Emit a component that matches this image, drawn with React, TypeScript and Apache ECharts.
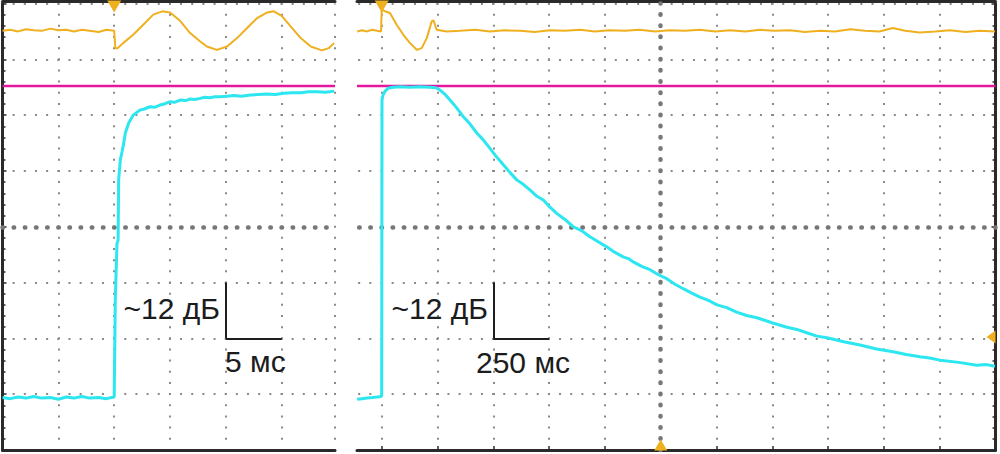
import React, { useEffect, useRef } from "react";
import * as echarts from "echarts";

// ---------- data (time in ms, level in screen divisions; 1 div ≈ 12 dB) ----------
const leftRange = [0, 29.77]; // 5 ms / div
const rightRange = [-110.7, 2750]; // 250 ms / div
const rightGridTicks = [0, 250, 500, 750, 1000, 1250, 1500, 1750, 2000, 2250, 2500, 2750];
const referenceLevel = 2.52; // magenta reference trace
const leftTrigger = 10;
const rightTrigger = 0;
const rightCenter = 1250;
const rightLevelMarker = -2;
const scaleBarLeft = { t: 20, dt: 5, y: -2, dy: 1 };
const scaleBarRight = { t: 500, dt: 250, y: -2, dy: 1 };
const levelLabel = "~12 дБ";
const timeLabelLeft = "5 мс";
const timeLabelRight = "250 мс";

const leftYellow: number[][] = [
  [0, 3.51], [0.7, 3.53], [1.4, 3.5], [2.1, 3.54], [2.8, 3.52], [3.5, 3.51], [4.3, 3.55], [5.0, 3.52],
  [5.7, 3.53], [6.4, 3.5], [7.1, 3.53], [7.8, 3.51], [8.6, 3.49], [9.3, 3.53], [10.0, 3.51],
  [10.1, 3.2], [10.3, 3.2], [10.8, 3.29], [11.7, 3.44], [12.6, 3.62], [13.5, 3.8], [14.3, 3.86],
  [15.0, 3.84], [15.9, 3.69], [16.8, 3.47], [17.7, 3.32], [18.3, 3.23], [19.2, 3.17], [20.1, 3.23],
  [21.0, 3.38], [21.9, 3.56], [22.8, 3.74], [23.7, 3.84], [24.3, 3.86], [25.0, 3.78], [25.8, 3.59],
  [26.7, 3.38], [27.6, 3.23], [28.6, 3.16], [29.2, 3.2], [29.7, 3.29],
];

const leftCyan: number[][] = [
  [0, -3.06], [0.7, -3.08], [1.4, -3.05], [2.1, -3.07], [2.8, -3.04], [3.5, -3.07], [4.3, -3.06],
  [5.0, -3.09], [5.7, -3.05], [6.4, -3.07], [7.1, -3.04], [7.8, -3.07], [8.6, -3.06], [9.3, -3.08],
  [10.0, -3.05], [10.1, -1.3], [10.25, -0.3], [10.35, -0.24], [10.4, 0.84], [10.55, 1.2], [10.7, 1.34],
  [10.8, 1.44], [11.0, 1.68], [11.3, 1.86], [11.7, 2.0], [12.3, 2.09], [12.7, 2.11], [13.2, 2.15],
  [13.6, 2.14], [14.1, 2.18], [14.5, 2.2], [15.0, 2.24], [15.4, 2.23], [15.9, 2.27], [16.4, 2.26],
  [16.8, 2.29], [17.2, 2.28], [17.7, 2.3], [18.1, 2.32], [18.6, 2.31], [19.0, 2.33], [19.5, 2.33],
  [20.1, 2.34], [20.7, 2.35], [21.4, 2.34], [22.2, 2.36], [22.9, 2.37], [23.7, 2.38], [24.4, 2.37],
  [25.2, 2.39], [25.9, 2.4], [26.7, 2.4], [27.4, 2.42], [28.2, 2.42], [28.9, 2.41], [29.7, 2.43],
];

const rightYellow: number[][] = [
  [-110, 3.5], [-88, 3.52], [-66, 3.5], [-43, 3.53], [-21, 3.51], [-3, 3.5], [0, 3.89], [15, 3.86],
  [37, 3.83], [67, 3.62], [97, 3.44], [127, 3.29], [157, 3.17], [179, 3.2], [202, 3.38], [224, 3.68],
  [232, 3.7], [246, 3.53], [291, 3.5], [350, 3.51], [420, 3.53], [485, 3.5], [550, 3.52], [620, 3.51],
  [685, 3.49], [755, 3.52], [820, 3.51], [890, 3.53], [955, 3.5], [1020, 3.52], [1090, 3.51],
  [1155, 3.53], [1225, 3.5], [1290, 3.52], [1360, 3.51], [1425, 3.53], [1495, 3.5], [1560, 3.52],
  [1630, 3.5], [1695, 3.53], [1760, 3.51], [1830, 3.52], [1895, 3.49], [1965, 3.51], [2030, 3.5],
  [2100, 3.54], [2165, 3.51], [2230, 3.5], [2290, 3.56], [2345, 3.51], [2410, 3.48], [2480, 3.5],
  [2545, 3.52], [2615, 3.49], [2680, 3.51], [2748, 3.5],
];

const rightCyan: number[][] = [
  [-110, -3.09], [-88, -3.08], [-66, -3.07], [-43, -3.06], [-21, -3.05], [-3, -3.04], [0, -3.03],
  [1.3, 2.27], [6, 2.36], [15, 2.43], [28, 2.48], [51, 2.5], [82, 2.51], [127, 2.5], [172, 2.51],
  [216, 2.5], [243, 2.49], [261, 2.45], [284, 2.37], [306, 2.27], [336, 2.13], [366, 1.97], [396, 1.84],
  [426, 1.68], [452, 1.57], [478, 1.44], [511, 1.27], [545, 1.11], [575, 0.97], [605, 0.84], [634, 0.76],
  [664, 0.66], [694, 0.55], [724, 0.48], [754, 0.35], [784, 0.24], [821, 0.13], [858, 0.0], [895, -0.07],
  [933, -0.18], [970, -0.27], [1008, -0.36], [1045, -0.46], [1082, -0.54], [1105, -0.57], [1127, -0.63],
  [1165, -0.71], [1202, -0.77], [1240, -0.86], [1277, -0.93], [1314, -1.03], [1351, -1.11],
  [1389, -1.19], [1426, -1.26], [1464, -1.32], [1502, -1.4], [1546, -1.45], [1590, -1.53],
  [1635, -1.59], [1681, -1.63], [1748, -1.72], [1816, -1.8], [1860, -1.84], [1904, -1.9],
  [1950, -1.96], [1995, -1.99], [2070, -2.06], [2143, -2.12], [2217, -2.19], [2291, -2.24],
  [2350, -2.29], [2412, -2.33], [2455, -2.35], [2501, -2.39], [2585, -2.43], [2667, -2.48],
  [2710, -2.47], [2748, -2.5],
];

// ---------- styles ----------
const FRAME = "#2a2a2a";
const DOT = "#8a8a8a";
const CENTER_DOT = "#777777";
const YELLOW = "#efb01f";
const CYAN = "#2ce6f0";
const MAGENTA = "#e3189e";
const TEXT = "#1c1c1c";
const FONT = '30px "Liberation Sans", Arial, sans-serif';
const DIV_PX = 55.8;
const MINOR_PX = DIV_PX / 5;

const dotted = (offset: number) => ({
  color: DOT,
  width: 2,
  type: [2, MINOR_PX - 2],
  dashOffset: offset,
});
const centerDots = (offset: number) => ({
  color: CENTER_DOT,
  width: 4.5,
  type: [0.5, MINOR_PX - 0.5],
  cap: "round",
  dashOffset: offset,
});
const frameLine = { show: true, onZero: false, lineStyle: { color: FRAME, width: 3 } };
const noLabel = { show: false };

function scaleBar(b: { t: number; dt: number; y: number; dy: number }) {
  const ls = { color: "#1e1e1e", width: 2, type: "solid" };
  return [
    [{ coord: [b.t, b.y + b.dy], lineStyle: ls }, { coord: [b.t, b.y] }],
    [{ coord: [b.t, b.y], lineStyle: ls }, { coord: [b.t + b.dt, b.y] }],
  ];
}

export default function App() {
  const ref = useRef<HTMLDivElement>(null);

  useEffect(() => {
    if (!ref.current) return;
    const chart = echarts.init(ref.current, undefined, { renderer: "svg" });

    const option: any = {
      animation: false,
      backgroundColor: "#ffffff",
      grid: [
        { left: 2.5, top: 3.5, width: 332.5, height: 446.5 },
        { left: 357, top: 3.5, width: 638.5, height: 446.5 },
      ],
      xAxis: [
        {
          gridIndex: 0, type: "value", min: leftRange[0], max: leftRange[1], interval: 5,
          position: "bottom", axisLine: frameLine, axisTick: { show: false }, axisLabel: noLabel,
          splitLine: { show: true, lineStyle: dotted(1) },
        },
        {
          gridIndex: 0, type: "value", min: leftRange[0], max: leftRange[1], position: "top", offset: 2,
          axisLine: frameLine, axisTick: { show: false }, axisLabel: noLabel, splitLine: { show: false },
        },
        {
          gridIndex: 1, type: "value", min: rightRange[0], max: rightRange[1], position: "bottom",
          axisLine: frameLine,
          axisTick: { show: true, inside: true, length: 4, customValues: rightGridTicks, lineStyle: { color: FRAME, width: 1.5 } },
          axisLabel: noLabel,
          splitLine: { show: true, lineStyle: dotted(1) },
        },
        {
          gridIndex: 1, type: "value", min: rightRange[0], max: rightRange[1], position: "top", offset: 2,
          axisLine: frameLine, axisTick: { show: false }, axisLabel: noLabel, splitLine: { show: false },
        },
      ],
      yAxis: [
        {
          gridIndex: 0, type: "value", min: -4, max: 4, interval: 1, position: "left",
          axisLine: frameLine,
          axisTick: { show: true, inside: true, length: 4, lineStyle: { color: FRAME, width: 1.5 } },
          minorTick: { show: true, splitNumber: 5, length: 3, lineStyle: { color: FRAME, width: 1.5 } },
          axisLabel: noLabel,
          splitLine: { show: true, lineStyle: dotted(1) },
        },
        {
          gridIndex: 1, type: "value", min: -4, max: 4, interval: 1, position: "right",
          axisLine: frameLine,
          axisTick: { show: true, inside: true, length: 4, lineStyle: { color: FRAME, width: 1.5 } },
          minorTick: { show: true, splitNumber: 5, length: 3, lineStyle: { color: FRAME, width: 1.5 } },
          axisLabel: noLabel,
          splitLine: { show: true, lineStyle: dotted(MINOR_PX - 1.4) },
        },
      ],
      series: [
        {
          type: "line", xAxisIndex: 0, yAxisIndex: 0, z: 2, silent: true, symbol: "none",
          data: [[leftRange[0], referenceLevel], [leftRange[1], referenceLevel]],
          lineStyle: { color: MAGENTA, width: 2.5 },
          markLine: {
            silent: true, symbol: ["none", "none"], label: { show: false },
            data: [
              { yAxis: 0, lineStyle: centerDots(0) },
              ...scaleBar(scaleBarLeft),
            ],
          },
        },
        {
          type: "line", xAxisIndex: 2, yAxisIndex: 1, z: 2, silent: true, symbol: "none",
          data: [[rightRange[0], referenceLevel], [rightRange[1], referenceLevel]],
          lineStyle: { color: MAGENTA, width: 2.5 },
          markLine: {
            silent: true, symbol: ["none", "none"], label: { show: false },
            data: [
              { yAxis: 0, lineStyle: centerDots(MINOR_PX - 2.2) },
              { xAxis: rightCenter, lineStyle: centerDots(0) },
              ...scaleBar(scaleBarRight),
            ],
          },
        },
        {
          type: "line", xAxisIndex: 0, yAxisIndex: 0, z: 4, silent: true, symbol: "none",
          data: leftYellow, lineStyle: { color: YELLOW, width: 2 },
          markPoint: {
            silent: true, label: { show: false }, itemStyle: { color: YELLOW },
            data: [
              { coord: [leftTrigger, 4], symbol: "triangle", symbolSize: [14, 12], symbolRotate: 180, symbolOffset: [0, 3] },
            ],
          },
        },
        {
          type: "line", xAxisIndex: 2, yAxisIndex: 1, z: 4, silent: true, symbol: "none",
          data: rightYellow, lineStyle: { color: YELLOW, width: 2 },
          markPoint: {
            silent: true, label: { show: false }, itemStyle: { color: YELLOW },
            data: [
              { coord: [rightTrigger, 4], symbol: "triangle", symbolSize: [14, 12], symbolRotate: 180, symbolOffset: [0, 3] },
              { coord: [rightCenter, -4], symbol: "triangle", symbolSize: [13, 11], symbolOffset: [0, -5] },
              { coord: [rightRange[1], rightLevelMarker], symbol: "triangle", symbolSize: [13, 9], symbolRotate: 90, symbolOffset: [-4.5, -1.5] },
            ],
          },
        },
        {
          type: "line", xAxisIndex: 0, yAxisIndex: 0, z: 5, silent: true, symbol: "none",
          data: leftCyan, lineStyle: { color: CYAN, width: 3 },
        },
        {
          type: "line", xAxisIndex: 2, yAxisIndex: 1, z: 5, silent: true, symbol: "none",
          data: rightCyan, lineStyle: { color: CYAN, width: 3 },
        },
      ],
      graphic: [
        { type: "text", x: 220, y: 308.5, z: 10, style: { text: levelLabel, font: FONT, fill: TEXT, textAlign: "right", align: "right", textVerticalAlign: "middle", verticalAlign: "middle" } },
        { type: "text", x: 225, y: 361.5, z: 10, style: { text: timeLabelLeft, font: FONT, fill: TEXT, textAlign: "left", align: "left", textVerticalAlign: "middle", verticalAlign: "middle" } },
        { type: "text", x: 488, y: 308.5, z: 10, style: { text: levelLabel, font: FONT, fill: TEXT, textAlign: "right", align: "right", textVerticalAlign: "middle", verticalAlign: "middle" } },
        { type: "text", x: 476, y: 362.5, z: 10, style: { text: timeLabelRight, font: FONT, fill: TEXT, textAlign: "left", align: "left", textVerticalAlign: "middle", verticalAlign: "middle" } },
      ],
    };

    chart.setOption(option);
    return () => chart.dispose();
  }, []);

  return (
    <div
      ref={ref}
      style={{ position: "absolute", left: 0, top: 0, width: 1000, height: 454, background: "#fff" }}
    />
  );
}
